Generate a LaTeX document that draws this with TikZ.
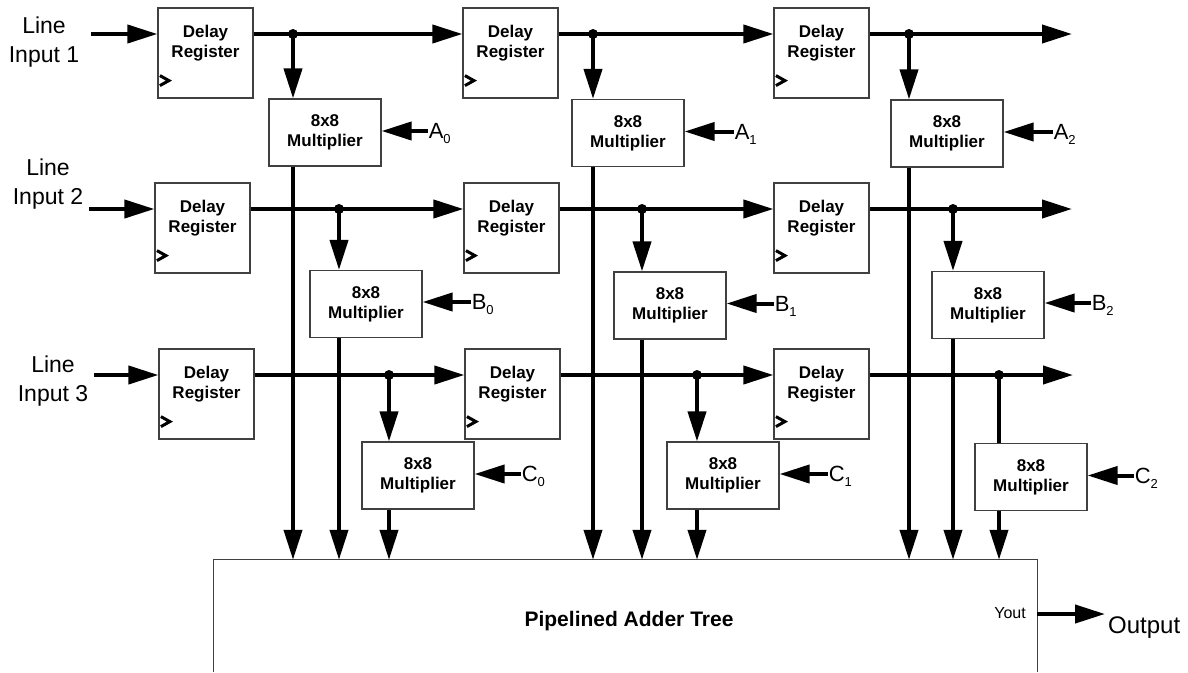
\documentclass[tikz,border=0pt]{standalone}
\usepackage{fontspec}
\setmainfont{Liberation Sans}
\usetikzlibrary{arrows.meta}

\tikzset{
  box/.style={draw=black!75, line width=1.2pt, inner sep=0pt},
  reg/.style={box, minimum width=95pt, minimum height=90pt},
  mult/.style={box, minimum width=112pt, minimum height=67pt, align=center,
               font=\fontsize{17}{20}\selectfont\bfseries},
  regtxt/.style={anchor=north, inner sep=0pt, align=center,
                 font=\fontsize{17}{20}\selectfont\bfseries},
  bus/.style={line width=4pt},
  arr/.style={bus, -{Triangle[length=30pt,width=18pt]}},
  clk/.style={line width=3pt},
  dot/.style={circle, fill=black, inner sep=0pt, minimum size=10pt},
  inlab/.style={anchor=north, inner sep=0pt, align=center,
                font=\fontsize{23}{29}\selectfont},
  coef/.style={anchor=west, inner sep=1pt, text depth=0pt,
               font=\fontsize{22}{22}\selectfont},
}

% subscript index of a coefficient
\newcommand\coefsub[1]{\raisebox{-5pt}{\fontsize{13}{13}\selectfont #1}}

% delay register with its label and clock mark
\newcommand\delayreg[2]{%
  \node[reg] (#1) at (#2) {};
  \node[regtxt] (#1t) at ([yshift=-18pt]#1.north) {Delay\\Register};
  \draw[clk] ([xshift=2.5pt,yshift=23pt]#1.south west) -- ++(9,5) -- ++(-9,5);
}

\begin{document}
\begin{tikzpicture}[x=1pt,y=-1pt]
\useasboundingbox (0,0) rectangle (1188,672);

% ---- input labels and line ends
\node[inlab] (l1) at (44,17)  {Line\\Input 1};
\node[inlab] (l2) at (48,159) {Line\\Input 2};
\node[inlab] (l3) at (53,356) {Line\\Input 3};
\coordinate (i1) at (91,34);
\coordinate (i2) at (89,209);
\coordinate (i3) at (94,375);
\coordinate (o1) at (1072,34);
\coordinate (o2) at (1072,209);
\coordinate (o3) at (1073,375);

% ---- delay registers
\delayreg{r11}{205.5,53}
\delayreg{r12}{510.5,53}
\delayreg{r13}{821.5,53}
\delayreg{r21}{202.5,228}
\delayreg{r22}{511.5,228}
\delayreg{r23}{821.5,228}
\delayreg{r31}{206.5,394}
\delayreg{r32}{512.5,394}
\delayreg{r33}{821.5,394}

% ---- multipliers
\node[mult] (ma0) at (325,132.5)  {8x8\\Multiplier};
\node[mult] (ma1) at (628,133)    {8x8\\Multiplier};
\node[mult] (ma2) at (947,133.5)  {8x8\\Multiplier};
\node[mult] (mb0) at (366,304)    {8x8\\Multiplier};
\node[mult] (mb1) at (670,305.5)  {8x8\\Multiplier};
\node[mult] (mb2) at (988,305)    {8x8\\Multiplier};
\node[mult] (mc0) at (418,475.5)  {8x8\\Multiplier};
\node[mult] (mc1) at (723,475.5)  {8x8\\Multiplier};
\node[mult] (mc2) at (1031,477)   {8x8\\Multiplier};

% ---- adder tree (open at the bottom edge)
\node[inner sep=0pt, minimum width=823pt, minimum height=112pt] (add) at (625.5,616) {};
\draw[black!75, line width=1.2pt]
  (add.south west) -- (add.north west) -- (add.north east) -- (add.south east);
\node[anchor=base, inner sep=0pt, font=\fontsize{21}{21}\selectfont\bfseries]
  (addt) at (629,626) {Pipelined Adder Tree};
\node[anchor=base east, inner sep=0pt, font=\fontsize{16}{16}\selectfont]
  (yout) at (1026,618) {Yout};
\coordinate (yo) at (1105,614);
\draw[arr] (add.east |- yo) -- (yo);
\node[anchor=base west, inner sep=0pt, font=\fontsize{24}{24}\selectfont]
  (outl) at (1108,633) {Output};

% ---- branch points
\coordinate (da0) at (293,34);
\coordinate (da1) at (593,34);
\coordinate (da2) at (909,34);
\coordinate (db0) at (339,209);
\coordinate (db1) at (642,209);
\coordinate (db2) at (953,209);
\coordinate (dc0) at (389,375);
\coordinate (dc1) at (697,375);
\coordinate (dc2) at (999,375);

% ---- line 1
\draw[arr] (i1) -- (i1 -| r11.west);
\draw[arr] (r11.east |- da0) -- (da0 -| r12.west);
\draw[arr] (r12.east |- da1) -- (da1 -| r13.west);
\draw[arr] (r13.east |- da2) -- (o1);
% ---- line 2
\draw[arr] (i2) -- (i2 -| r21.west);
\draw[arr] (r21.east |- db0) -- (db0 -| r22.west);
\draw[arr] (r22.east |- db1) -- (db1 -| r23.west);
\draw[arr] (r23.east |- db2) -- (o2);
% ---- line 3
\draw[arr] (i3) -- (i3 -| r31.west);
\draw[arr] (r31.east |- dc0) -- (dc0 -| r32.west);
\draw[arr] (r32.east |- dc1) -- (dc1 -| r33.west);
\draw[arr] (r33.east |- dc2) -- (o3);

% ---- taps into the multipliers
\draw[arr] (da0) -- (da0 |- ma0.north);
\draw[arr] (da1) -- (da1 |- ma1.north);
\draw[arr] (da2) -- (da2 |- ma2.north);
\draw[arr] (db0) -- (db0 |- mb0.north);
\draw[arr] (db1) -- (db1 |- mb1.north);
\draw[arr] (db2) -- (db2 |- mb2.north);
\draw[arr] (dc0) -- (dc0 |- mc0.north);
\draw[arr] (dc1) -- (dc1 |- mc1.north);
\draw[bus] (dc2) -- (dc2 |- mc2.north);

% ---- products into the adder tree
\draw[arr] (da0 |- ma0.south) -- (da0 |- add.north);
\draw[arr] (da1 |- ma1.south) -- (da1 |- add.north);
\draw[arr] (da2 |- ma2.south) -- (da2 |- add.north);
\draw[arr] (db0 |- mb0.south) -- (db0 |- add.north);
\draw[arr] (db1 |- mb1.south) -- (db1 |- add.north);
\draw[arr] (db2 |- mb2.south) -- (db2 |- add.north);
\draw[arr] (dc0 |- mc0.south) -- (dc0 |- add.north);
\draw[arr] (dc1 |- mc1.south) -- (dc1 |- add.north);
\draw[arr] (dc2 |- mc2.south) -- (dc2 |- add.north);

% ---- coefficients
\node[coef] (ca0) at ([xshift=46pt,yshift=1.5pt]ma0.east) {A\coefsub{0}};
\node[coef] (ca1) at ([xshift=49pt,yshift=1.5pt]ma1.east) {A\coefsub{1}};
\node[coef] (ca2) at ([xshift=49pt,yshift=1.5pt]ma2.east) {A\coefsub{2}};
\node[coef] (cb0) at ([xshift=48pt,yshift=2pt]mb0.east) {B\coefsub{0}};
\node[coef] (cb1) at ([xshift=47pt,yshift=2pt]mb1.east) {B\coefsub{1}};
\node[coef] (cb2) at ([xshift=46pt,yshift=2pt]mb2.east) {B\coefsub{2}};
\node[coef] (cc0) at ([xshift=46pt,yshift=1.5pt]mc0.east) {C\coefsub{0}};
\node[coef] (cc1) at ([xshift=48pt,yshift=1.5pt]mc1.east) {C\coefsub{1}};
\node[coef] (cc2) at ([xshift=46pt,yshift=1.5pt]mc2.east) {C\coefsub{2}};
\foreach \m/\c in {ma0/ca0, ma1/ca1, ma2/ca2, mb0/cb0, mb1/cb1, mb2/cb2,
                   mc0/cc0, mc1/cc1, mc2/cc2}
  \draw[arr] (\c.west) -- (\c.west -| \m.east);

% ---- junction dots
\foreach \d in {da0,da1,da2,db0,db1,db2,dc0,dc1,dc2}
  \node[dot] (\d j) at (\d) {};
\end{tikzpicture}
\end{document}
